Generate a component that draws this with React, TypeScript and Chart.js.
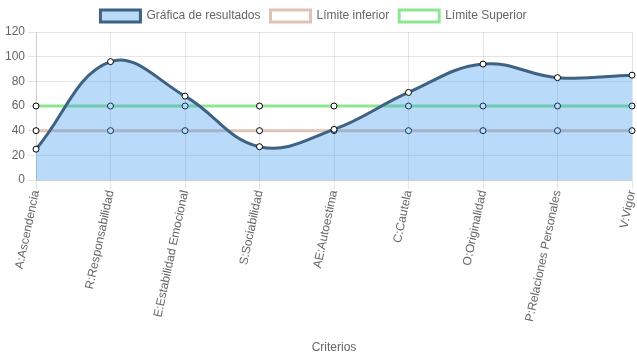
import React, { useEffect, useRef } from "react";
import { Chart, registerables } from "chart.js";

Chart.register(...registerables);

const categories = [
  "A:Ascendencia",
  "R:Responsabilidad",
  "E:Estabilidad Emocional",
  "S:Sociabilidad",
  "AE:Autoestima",
  "C:Cautela",
  "O:Originalidad",
  "P:Relaciones Personales",
  "V:Vigor",
];
const resultados = [25, 96, 68, 27, 41, 71, 94, 83, 85];
const limiteInferior = [40, 40, 40, 40, 40, 40, 40, 40, 40];
const limiteSuperior = [60, 60, 60, 60, 60, 60, 60, 60, 60];

const FONT = "Arial, Liberation Sans, sans-serif";

const shiftLegend = {
  id: "shiftLegend",
  afterLayout(chart: any) {
    if (chart.legend) {
      chart.legend.left -= 6;
      chart.legend.right -= 6;
    }
  },
};

export default function App() {
  const ref = useRef<HTMLCanvasElement>(null);
  useEffect(() => {
    document.body.style.margin = "0";
    const ctx = ref.current!;
    const chart = new Chart(ctx, {
      type: "line",
      plugins: [shiftLegend],
      data: {
        labels: categories,
        datasets: [
          {
            label: "Gráfica de resultados",
            data: resultados,
            fill: true,
            backgroundColor: "rgba(54,150,235,0.35)",
            borderColor: "#3f6282",
            borderWidth: 3,
            tension: 0.4,
            pointRadius: 3,
            pointBackgroundColor: "#fff",
            pointBorderColor: "#000",
            pointBorderWidth: 1,
          },
          {
            label: "Límite inferior",
            data: limiteInferior,
            fill: false,
            backgroundColor: "#fff",
            borderColor: "rgba(225,195,182,1)",
            borderWidth: 3,
            tension: 0,
            pointRadius: 3,
            pointBackgroundColor: "#fff",
            pointBorderColor: "#000",
            pointBorderWidth: 1,
          },
          {
            label: "Límite Superior",
            data: limiteSuperior,
            fill: false,
            backgroundColor: "#fff",
            borderColor: "rgba(144,230,144,1)",
            borderWidth: 3,
            tension: 0,
            pointRadius: 3,
            pointBackgroundColor: "#fff",
            pointBorderColor: "#000",
            pointBorderWidth: 1,
          },
        ],
      },
      options: {
        responsive: false,
        animation: false,
        maintainAspectRatio: false,
        layout: { padding: { left: 2, right: 0, top: 0, bottom: 0 } },
        plugins: {
          legend: {
            position: "top",
            labels: {
              color: "#666",
              font: { size: 12, family: FONT },
              boxWidth: 40,
              boxHeight: 12,
            },
          },
          tooltip: { enabled: false },
        },
        scales: {
          x: {
            afterFit: (scale: any) => {
              scale.height = 179;
              scale.paddingRight = 3;
            },
            grid: { color: "rgba(0,0,0,0.1)", tickLength: 9 },
            ticks: {
              color: "#666",
              font: { size: 12, family: FONT },
              maxRotation: 78,
              minRotation: 78,
              padding: 0,
            },
            title: {
              display: true,
              text: "Criterios",
              color: "#666",
              font: { size: 12, family: FONT },
            },
          },
          y: {
            min: 0,
            max: 120,
            grid: { color: "rgba(0,0,0,0.1)" },
            ticks: {
              stepSize: 20,
              color: "#666",
              font: { size: 12, family: FONT },
            },
          },
        },
      },
    });
    return () => chart.destroy();
  }, []);
  return (
    <div style={{ width: 637, height: 359 }}>
      <canvas ref={ref} width={637} height={359} style={{ display: "block" }} />
    </div>
  );
}
